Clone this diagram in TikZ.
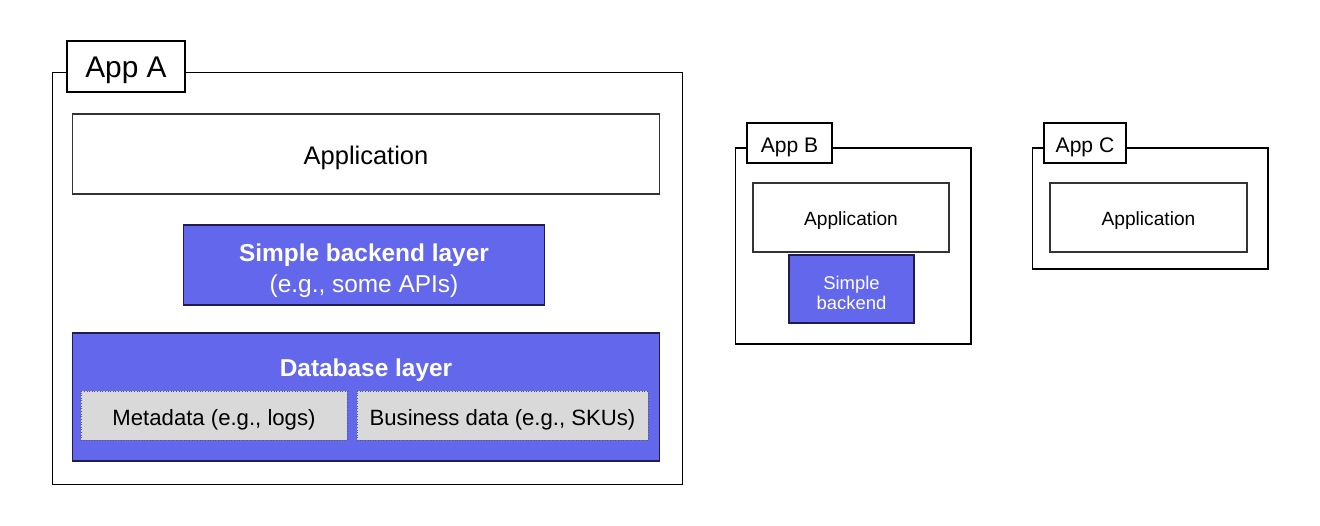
\documentclass[tikz,border=0pt]{standalone}
\usepackage{fontspec}
\setmainfont{Liberation Sans}
\usepackage{tikz}
\usetikzlibrary{backgrounds}

\definecolor{layerblue}{RGB}{99,103,236}
\definecolor{layerline}{RGB}{30,28,80}
\definecolor{datagray}{RGB}{217,217,217}

\begin{document}
\begin{tikzpicture}[x=0.02cm,y=-0.02cm]
	\useasboundingbox (0,0) rectangle (1320,525);
	\begin{scope}[every node/.style={rectangle,draw=black,line width=0.6pt,fill=white,inner sep=0pt,outer sep=0pt,text depth=0pt}]
		\node[minimum width=12.62cm,minimum height=8.26cm] (appA) at (367.5,278.5) {};
		\node[minimum width=2.36cm,minimum height=1.02cm,font=\fontsize{17}{20}\selectfont,text height=13pt] (tabA) at (126,66.5) {App A};
		\node[minimum width=11.76cm,minimum height=1.6cm,font=\fontsize{14.5}{17}\selectfont,draw=black!80,text height=12.5pt] (applA) at (366,154) {Application};
		\node[minimum width=4.72cm,minimum height=3.92cm] (appB) at (853,246) {};
		\node[minimum width=1.7cm,minimum height=0.8cm,font=\fontsize{12}{14}\selectfont,text height=10.5pt] (tabB) at (789.5,143) {App B};
		\node[minimum width=3.92cm,minimum height=1.38cm,font=\fontsize{10.9}{13}\selectfont,draw=black!80,text height=9pt] (applB) at (851,217.5) {Application};
		\node[minimum width=4.72cm,minimum height=2.42cm] (appC) at (1150,208.5) {};
		\node[minimum width=1.64cm,minimum height=0.8cm,font=\fontsize{12}{14}\selectfont,text height=10.5pt] (tabC) at (1085,143) {App C};
		\node[minimum width=3.94cm,minimum height=1.38cm,font=\fontsize{10.9}{13}\selectfont,draw=black!80,text height=9pt] (applC) at (1148.5,217.5) {Application};
	\end{scope}

	\begin{scope}[every node/.style={rectangle,draw=layerline,line width=0.6pt,fill=layerblue,text=white,inner sep=0pt,outer sep=0pt,align=center,text depth=0pt}]
		\node[minimum width=7.24cm,minimum height=1.6cm,font=\fontsize{13.9}{17.6}\selectfont,text height=31.6pt] (backA) at (364,265) {\textbf{Simple backend layer}\\(e.g., some APIs)};
		\node[minimum width=11.76cm,minimum height=2.56cm] (dbA) at (366,397) {};
		\node[minimum width=2.5cm,minimum height=1.36cm,font=\fontsize{10.5}{11.6}\selectfont,text height=23.2pt] (backB) at (851.5,289) {Simple\\backend};
	\end{scope}
	\node[text=white,font=\bfseries\fontsize{13.9}{16}\selectfont,inner sep=0pt,text height=10.5pt,text depth=0pt] (dbtitle) at (366,367) {Database layer};

	\begin{scope}[every node/.style={rectangle,draw=black!65,densely dotted,line width=0.5pt,fill=datagray,inner sep=0pt,outer sep=0pt,font=\fontsize{12.6}{15}\selectfont,text height=11.5pt,text depth=0pt}]
		\node[minimum width=5.32cm,minimum height=0.98cm] (meta) at (214,415.5) {Metadata (e.g., logs)};
		\node[minimum width=5.82cm,minimum height=0.98cm] (biz) at (502.5,415.5) {Business data (e.g., SKUs)};
	\end{scope}
\end{tikzpicture}
\end{document}
